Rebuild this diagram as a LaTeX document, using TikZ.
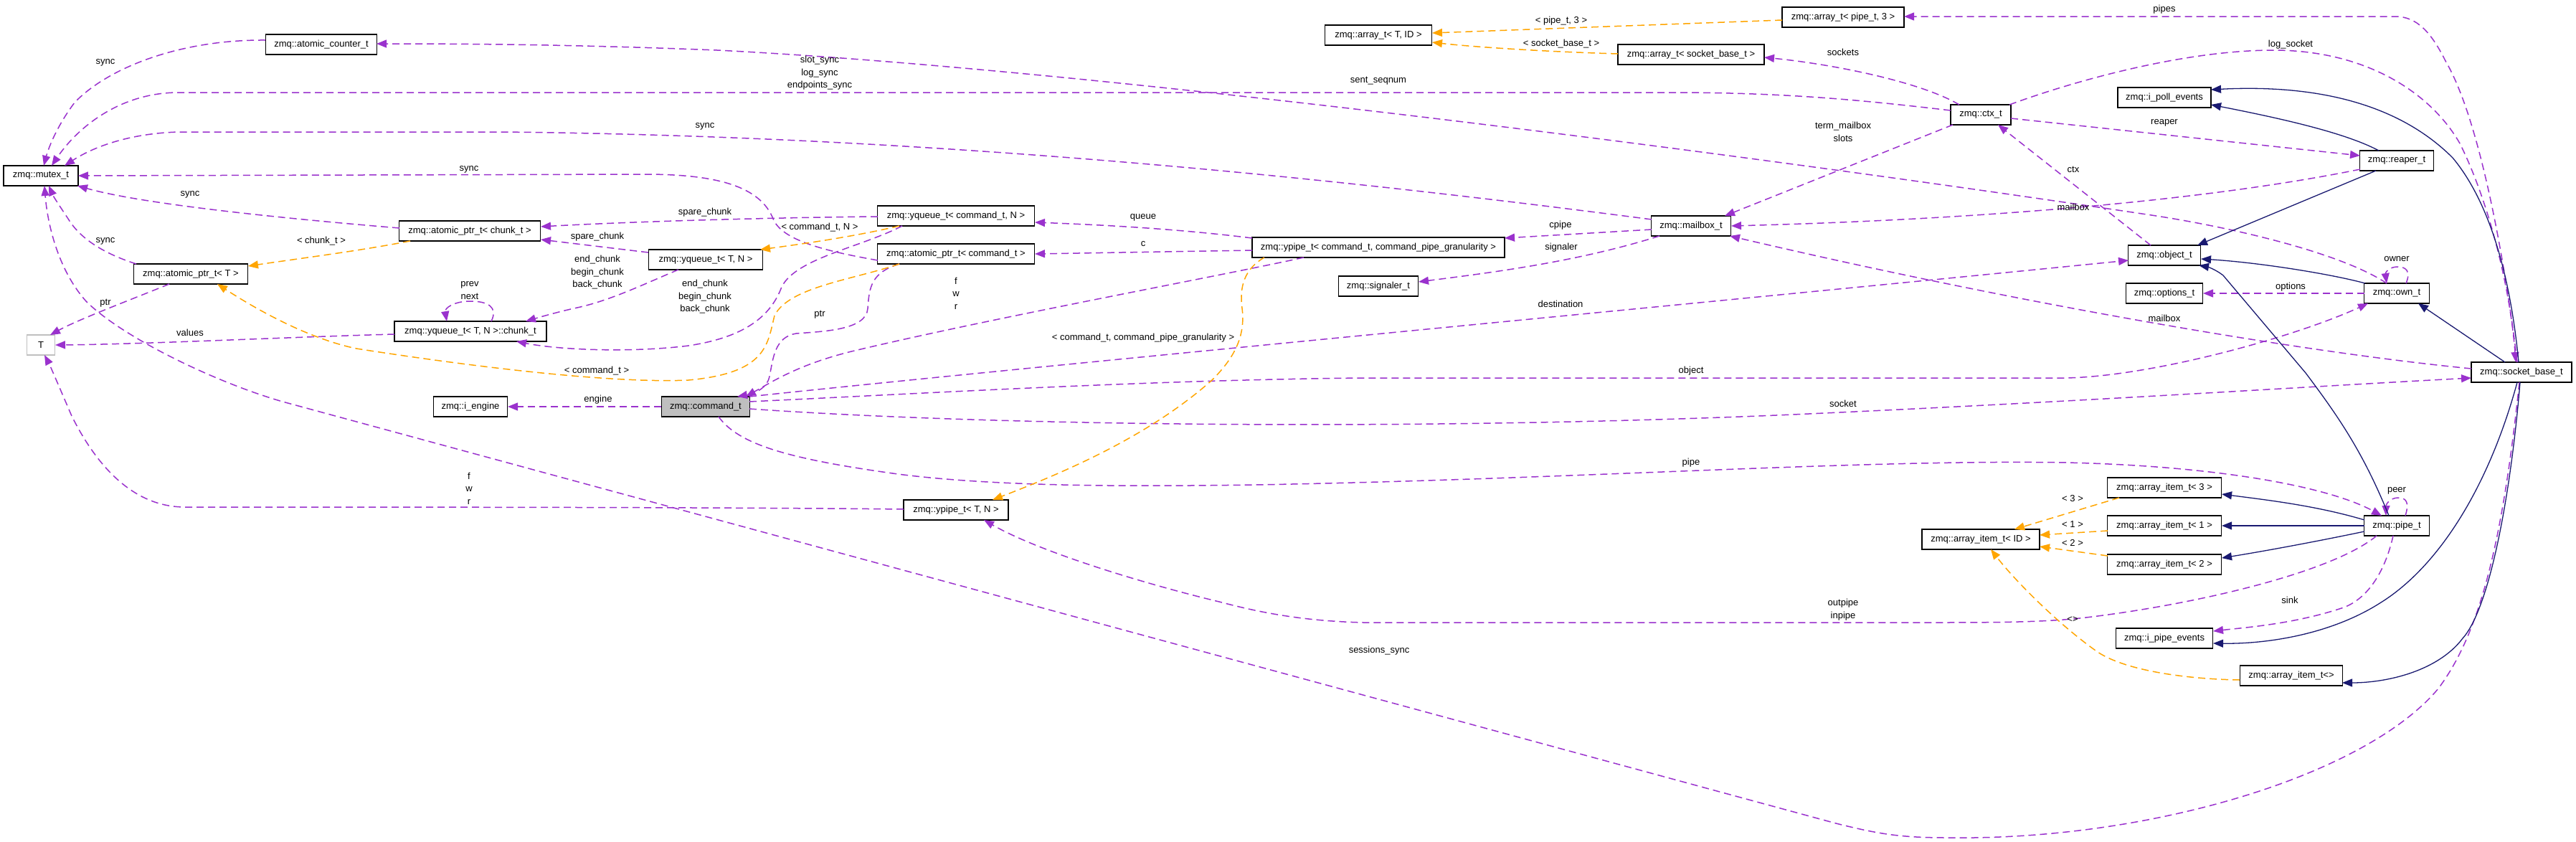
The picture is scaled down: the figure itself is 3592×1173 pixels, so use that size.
\documentclass[tikz,border=0pt]{standalone}
\usepackage{fontspec}
\setmainfont{Liberation Sans}
\usetikzlibrary{arrows.meta,calc}
\definecolor{pur}{HTML}{9A32CD}
\definecolor{org}{HTML}{FFA500}
\definecolor{mblue}{HTML}{191970}
\definecolor{gfill}{HTML}{BFBFBF}
\tikzset{
  cls/.style={draw=black, line width=1.5pt, minimum height=28pt, inner sep=0pt, fill=white, font=\fontsize{13}{15}\selectfont},
  tip/.style={-{Triangle[length=14pt,width=11pt]}},
  pe/.style={draw=pur, line width=1.5pt, dash pattern=on 10pt off 6pt, tip, fill=none},
  oe/.style={draw=org, line width=1.5pt, dash pattern=on 10pt off 6pt, tip, fill=none},
  ie/.style={draw=mblue, line width=1.3pt, tip, fill=none},
  lbl/.style={font=\fontsize{13}{17.5}\selectfont, align=center, inner sep=0pt}
}
\begin{document}
\begin{tikzpicture}[x=1pt,y=-1pt]
\useasboundingbox (0,0) rectangle (3592,1173);
% ---- class nodes ----
\node[cls, minimum width=155pt] (actr) at (448,62) {zmq::atomic\_counter\_t};
\node[cls, minimum width=104pt] (mutex) at (57,245) {zmq::mutex\_t};
\node[cls, minimum width=159pt] (aptrT) at (266,382) {zmq::atomic\_ptr\_t< T >};
\node[cls, minimum width=39pt, draw=gfill] (T) at (57,481) {T};
\node[cls, minimum width=197pt] (aptrch) at (655,322) {zmq::atomic\_ptr\_t< chunk\_t >};
\node[cls, minimum width=212pt] (chunk) at (656,462) {zmq::yqueue\_t< T, N >::chunk\_t};
\node[cls, minimum width=159pt] (yqTN) at (984,362) {zmq::yqueue\_t< T, N >};
\node[cls, minimum width=219pt] (yqcmd) at (1333,301) {zmq::yqueue\_t< command\_t, N >};
\node[cls, minimum width=219pt] (aptrcmd) at (1333,354) {zmq::atomic\_ptr\_t< command\_t >};
\node[cls, minimum width=123pt, fill=gfill] (cmd) at (984,567) {zmq::command\_t};
\node[cls, minimum width=103pt] (ieng) at (656,567) {zmq::i\_engine};
\node[cls, minimum width=146pt] (ypTN) at (1333,711) {zmq::ypipe\_t< T, N >};
\node[cls, minimum width=352pt] (ypcmd) at (1922,345) {zmq::ypipe\_t< command\_t, command\_pipe\_granularity >};
\node[cls, minimum width=111pt] (mbox) at (2358,315) {zmq::mailbox\_t};
\node[cls, minimum width=111pt] (sig) at (1922,399) {zmq::signaler\_t};
\node[cls, minimum width=149pt] (arrTID) at (1922,49) {zmq::array\_t< T, ID >};
\node[cls, minimum width=204pt] (arrsock) at (2358,76) {zmq::array\_t< socket\_base\_t >};
\node[cls, minimum width=170pt] (arrpipe) at (2570,24) {zmq::array\_t< pipe\_t, 3 >};
\node[cls, minimum width=84pt] (ctx) at (2762,160) {zmq::ctx\_t};
\node[cls, minimum width=130pt] (ipoll) at (3018,136) {zmq::i\_poll\_events};
\node[cls, minimum width=103pt] (reaper) at (3342,224) {zmq::reaper\_t};
\node[cls, minimum width=101pt] (object) at (3018,356) {zmq::object\_t};
\node[cls, minimum width=107pt] (options) at (3018,409) {zmq::options\_t};
\node[cls, minimum width=91pt] (own) at (3342,409) {zmq::own\_t};
\node[cls, minimum width=140pt] (sbase) at (3516,519) {zmq::socket\_base\_t};
\node[cls, minimum width=159pt] (ai3) at (3018,680) {zmq::array\_item\_t< 3 >};
\node[cls, minimum width=159pt] (ai1) at (3018,733) {zmq::array\_item\_t< 1 >};
\node[cls, minimum width=159pt] (ai2) at (3018,787) {zmq::array\_item\_t< 2 >};
\node[cls, minimum width=164pt] (aiID) at (2762,752) {zmq::array\_item\_t< ID >};
\node[cls, minimum width=91pt] (pipe) at (3342,733) {zmq::pipe\_t};
\node[cls, minimum width=135pt] (ipipe) at (3018,890) {zmq::i\_pipe\_events};
\node[cls, minimum width=143pt] (aiE) at (3195,942) {zmq::array\_item\_t<>};
% ---- usage edges (purple) ----
\draw[pe] ($(actr)+(-78,-6)$) .. controls (250,55) and (150,95) .. (104,143) .. controls (80,175) and (68,205) .. ($(mutex)+(4,-14)$);
\draw[pe] ($(own)+(-14,-14)$) .. controls (3260,350) and (3100,315) .. (3000,300) .. controls (2400,210) and (1500,95) .. (1000,70) .. controls (800,62) and (650,61) .. ($(actr)+(77,-1)$);
\draw[pe] ($(ctx)+(-42,-6)$) .. controls (2600,140) and (2500,130) .. (2350,129) -- (249,129) .. controls (170,129) and (110,175) .. ($(mutex)+(15,-14)$);
\draw[pe] ($(mbox)+(-55,-9)$) .. controls (1850,247) and (1300,190) .. (700,184) -- (249,184) .. controls (180,186) and (130,205) .. ($(mutex)+(33,-14)$);
\draw[pe] ($(aptrcmd)+(-109,9)$) .. controls (1150,350) and (1090,335) .. (1078,305) .. controls (1060,260) and (1000,243) .. (900,243) -- ($(mutex)+(52,0)$);
\draw[pe] ($(aptrch)+(-98,-4)$) .. controls (400,305) and (200,285) .. ($(mutex)+(51,14)$);
\draw[pe] ($(aptrT)+(-76,-14)$) .. controls (140,352) and (110,330) .. (95,305) .. controls (85,290) and (75,275) .. ($(mutex)+(11,14)$);
\draw[pe] ($(sbase)+(-3,14)$) .. controls (3490,750) and (3460,880) .. (3400,960) .. controls (3300,1080) and (3000,1172) .. (2716,1168) .. controls (2650,1168) and (2620,1163) .. (2560,1148) -- (394,560) .. controls (300,533) and (170,470) .. (120,420) .. controls (80,375) and (66,310) .. ($(mutex)+(5,14)$);
\draw[pe] ($(yqcmd)+(-109,1)$) .. controls (1100,303) and (900,308) .. ($(aptrch)+(99,-6)$);
\draw[pe] ($(yqTN)+(-80,-10)$) -- ($(aptrch)+(99,12)$);
\draw[pe] ($(yqTN)+(-38,14)$) .. controls (900,395) and (850,420) .. (800,430) .. controls (770,437) and (750,443) .. ($(chunk)+(77,-14)$);
\draw[pe] ($(yqcmd)+(-75,14)$) .. controls (1200,345) and (1110,360) .. (1090,400) .. controls (1075,440) and (1040,470) .. (960,482) .. controls (880,492) and (780,488) .. ($(chunk)+(64,14)$);
\draw[pe] ($(chunk)+(29,-14)$) .. controls (695,428) and (680,420) .. (656,420) .. controls (632,420) and (620,430) .. ($(chunk)+(-33,-14)$);
\draw[pe] ($(chunk)+(-106,4)$) .. controls (400,470) and (200,480) .. ($(T)+(20,0)$);
\draw[pe] ($(aptrT)+(-30,14)$) .. controls (190,415) and (110,445) .. ($(T)+(13,-14)$);
\draw[pe] ($(aptrcmd)+(-79,14)$) .. controls (1215,380) and (1212,400) .. (1210,430) .. controls (1208,460) and (1150,462) .. (1110,465) .. controls (1080,470) and (1078,500) .. (1073,525) .. controls (1070,540) and (1055,548) .. ($(cmd)+(44,-14)$);
\draw[pe] ($(ypcmd)+(-176,-13)$) .. controls (1650,320) and (1550,314) .. ($(yqcmd)+(110,9)$);
\draw[pe] ($(ypcmd)+(-176,4)$) -- ($(aptrcmd)+(110,0)$);
\draw[pe] ($(ypcmd)+(-104,14)$) .. controls (1700,385) and (1400,440) .. (1200,487) .. controls (1120,505) and (1080,530) .. ($(cmd)+(56,-14)$);
\draw[pe] ($(mbox)+(-55,5)$) -- ($(ypcmd)+(176,-13)$);
\draw[pe] ($(mbox)+(-44,14)$) .. controls (2200,365) and (2080,380) .. ($(sig)+(56,-6)$);
\draw[pe] ($(cmd)+(-62,0)$) -- ($(ieng)+(52,0)$);
\draw[pe] ($(cmd)+(61,-14)$) .. controls (1400,515) and (2400,420) .. ($(object)+(-50,7)$);
\draw[pe] ($(cmd)+(61,-7)$) .. controls (1300,548) and (1600,530) .. (1900,527) -- (2880,527) .. controls (3000,525) and (3200,470) .. ($(own)+(-40,14)$);
\draw[pe] ($(cmd)+(61,3)$) .. controls (1400,595) and (2000,600) .. (2500,578) .. controls (2900,560) and (3200,540) .. ($(sbase)+(-70,8)$);
\draw[pe] ($(cmd)+(18,14)$) .. controls (1030,620) and (1100,640) .. (1252,661) .. controls (1400,680) and (1600,678) .. (1750,676) .. controls (2200,668) and (2600,640) .. (2882,645) .. controls (3100,650) and (3250,680) .. ($(pipe)+(-21,-14)$);
\draw[pe] ($(ypTN)+(-73,-1)$) .. controls (1000,707) and (500,707) .. (258,707) .. controls (180,707) and (130,640) .. (100,580) .. controls (85,545) and (70,510) .. ($(T)+(5,14)$);
\draw[pe] ($(pipe)+(-28,14)$) .. controls (3250,800) and (3050,845) .. (2900,862) .. controls (2850,867) and (2800,868) .. (2700,868) -- (1901,868) .. controls (1820,866) and (1760,855) .. (1700,839) .. controls (1600,815) and (1450,770) .. ($(ypTN)+(39,14)$);
\draw[pe] ($(pipe)+(12,-14)$) .. controls (3360,700) and (3355,694) .. (3344,694) .. controls (3333,694) and (3327,703) .. ($(pipe)+(-15,-14)$);
\draw[pe] ($(pipe)+(-5,14)$) .. controls (3325,800) and (3300,835) .. (3268,847) .. controls (3200,870) and (3130,875) .. ($(ipipe)+(68,-10)$);
\draw[pe] ($(sbase)+(-6,-14)$) .. controls (3495,380) and (3460,170) .. (3410,85) .. controls (3390,45) and (3370,23) .. (3340,23) -- ($(arrpipe)+(85,-1)$);
\draw[pe] ($(ctx)+(40,-14)$) .. controls (2900,110) and (3050,70) .. (3170,70) .. controls (3300,70) and (3390,130) .. (3430,200) .. controls (3470,280) and (3500,400) .. ($(sbase)+(-8,-14)$);
\draw[pe] ($(ctx)+(-30,-14)$) .. controls (2680,115) and (2560,90) .. ($(arrsock)+(102,4)$);
\draw[pe] ($(ctx)+(42,5)$) -- ($(reaper)+(-51,-7)$);
\draw[pe] ($(ctx)+(-39,14)$) -- ($(mbox)+(47,-14)$);
\draw[pe] ($(object)+(-19,-14)$) -- ($(ctx)+(24,14)$);
\draw[pe] ($(reaper)+(-51,12)$) .. controls (3100,275) and (2800,305) .. ($(mbox)+(56,0)$);
\draw[pe] ($(sbase)+(-70,-5)$) .. controls (3200,490) and (2800,420) .. ($(mbox)+(54,14)$);
\draw[pe] ($(own)+(-45,0)$) -- ($(options)+(54,0)$);
\draw[pe] ($(own)+(13,-14)$) .. controls (3362,378) and (3355,372) .. (3343,372) .. controls (3332,372) and (3326,380) .. ($(own)+(-14,-14)$);
% ---- template edges (orange) ----
\draw[oe] ($(aptrch)+(-83,14)$) .. controls (500,350) and (420,360) .. ($(aptrT)+(80,-11)$);
\draw[oe] ($(aptrcmd)+(-79,14)$) .. controls (1190,390) and (1100,400) .. (1080,440) .. controls (1070,480) and (1070,520) .. (960,530) .. controls (850,535) and (650,510) .. (497,486) .. controls (420,470) and (340,420) .. ($(aptrT)+(37,14)$);
\draw[oe] ($(yqcmd)+(-79,14)$) .. controls (1190,330) and (1120,340) .. ($(yqTN)+(76,-14)$);
\draw[oe] ($(ypcmd)+(-159,14)$) .. controls (1735,375) and (1728,400) .. (1732,430) .. controls (1737,470) and (1720,500) .. (1690,530) .. controls (1600,610) and (1480,660) .. ($(ypTN)+(51,-14)$);
\draw[oe] ($(ai3)+(-63,14)$) -- ($(aiID)+(47,-14)$);
\draw[oe] ($(ai1)+(-79,7)$) -- ($(aiID)+(82,-6)$);
\draw[oe] ($(ai2)+(-79,-12)$) -- ($(aiID)+(82,10)$);
\draw[oe] ($(aiE)+(-72,6)$) .. controls (3050,947) and (2960,935) .. (2922,907) .. controls (2870,870) and (2810,810) .. ($(aiID)+(14,14)$);
\draw[oe] ($(arrpipe)+(-85,4)$) -- ($(arrTID)+(75,-3)$);
\draw[oe] ($(arrsock)+(-102,-1)$) .. controls (2150,72) and (2050,65) .. ($(arrTID)+(75,10)$);
% ---- inheritance edges (blue) ----
\draw[ie] ($(sbase)+(-4,-14)$) .. controls (3500,380) and (3470,280) .. (3420,220) .. controls (3340,140) and (3220,118) .. ($(ipoll)+(65,-11)$);
\draw[ie] ($(reaper)+(-25,-14)$) .. controls (3270,185) and (3180,165) .. ($(ipoll)+(65,10)$);
\draw[ie] ($(reaper)+(-29,14)$) -- ($(object)+(46,-14)$);
\draw[ie] ($(own)+(-44,-14)$) .. controls (3250,382) and (3150,366) .. ($(object)+(51,5)$);
\draw[ie] ($(sbase)+(-23,-14)$) -- ($(own)+(30,14)$);
\draw[ie] ($(pipe)+(-11,-14)$) .. controls (3295,630) and (3260,580) .. (3215,520) -- (3100,384) .. controls (3090,376) and (3078,372) .. ($(object)+(48,14)$);
\draw[ie] ($(pipe)+(-45,-8)$) .. controls (3230,705) and (3160,697) .. ($(ai3)+(80,9)$);
\draw[ie] ($(pipe)+(-45,0)$) -- ($(ai1)+(80,0)$);
\draw[ie] ($(pipe)+(-45,8)$) .. controls (3230,755) and (3160,768) .. ($(ai2)+(80,-9)$);
\draw[ie] ($(sbase)+(-6,14)$) .. controls (3470,680) and (3400,790) .. (3320,840) .. controls (3250,885) and (3160,898) .. ($(ipipe)+(68,7)$);
\draw[ie] ($(sbase)+(-2,14)$) .. controls (3500,700) and (3470,850) .. (3434,890) .. controls (3400,935) and (3330,952) .. ($(aiE)+(71,10)$);
% ---- labels ----
\node[lbl] (l1) at (147,87) {sync};
\node[lbl] (l2) at (1922,113) {sent\_seqnum};
\node[lbl] (l3) at (1143,102) {slot\_sync\\log\_sync\\endpoints\_sync};
\node[lbl] (l4) at (983,176) {sync};
\node[lbl] (l5) at (654,236) {sync};
\node[lbl] (l6) at (265,271) {sync};
\node[lbl] (l7) at (147,336) {sync};
\node[lbl] (l8) at (1923,907) {sessions\_sync};
\node[lbl] (l9) at (448,336) {< chunk\_t >};
\node[lbl] (l10) at (832,517) {< command\_t >};
\node[lbl] (l11) at (1143,317) {< command\_t, N >};
\node[lbl] (l12) at (983,296) {spare\_chunk};
\node[lbl] (l13) at (833,330) {spare\_chunk};
\node[lbl] (l14) at (833,380) {end\_chunk\\begin\_chunk\\back\_chunk};
\node[lbl] (l15) at (983,414) {end\_chunk\\begin\_chunk\\back\_chunk};
\node[lbl] (l16) at (655,405) {prev\\next};
\node[lbl] (l17) at (265,464) {values};
\node[lbl] (l18) at (147,423) {ptr};
\node[lbl] (l19) at (1143,439) {ptr};
\node[lbl] (l20) at (1594,303) {queue};
\node[lbl] (l21) at (1594,340) {c};
\node[lbl] (l22) at (1333,409) {f\\w\\r};
\node[lbl] (l23) at (1594,471) {< command\_t, command\_pipe\_granularity >};
\node[lbl] (l24) at (2176,314) {cpipe};
\node[lbl] (l25) at (2177,345) {signaler};
\node[lbl] (l26) at (834,557) {engine};
\node[lbl] (l27) at (2176,424) {destination};
\node[lbl] (l28) at (2358,517) {object};
\node[lbl] (l29) at (2570,563) {socket};
\node[lbl] (l30) at (2358,645) {pipe};
\node[lbl] (l31) at (654,681) {f\\w\\r};
\node[lbl] (l32) at (2570,850) {outpipe\\inpipe};
\node[lbl] (l33) at (3342,684) {peer};
\node[lbl] (l34) at (3193,837) {sink};
\node[lbl] (l35) at (2890,695) {< 3 >};
\node[lbl] (l36) at (2890,731) {< 1 >};
\node[lbl] (l37) at (2890,757) {< 2 >};
\node[lbl] (l38) at (2890,864) {<>};
\node[lbl] (l39) at (2177,29) {< pipe\_t, 3 >};
\node[lbl] (l40) at (2177,61) {< socket\_base\_t >};
\node[lbl] (l41) at (3018,13) {pipes};
\node[lbl] (l42) at (3194,62) {log\_socket};
\node[lbl] (l43) at (2570,73) {sockets};
\node[lbl] (l44) at (3018,171) {reaper};
\node[lbl] (l45) at (2570,184) {term\_mailbox\\slots};
\node[lbl] (l46) at (2891,236) {ctx};
\node[lbl] (l47) at (2891,289) {mailbox};
\node[lbl] (l48) at (3018,444) {mailbox};
\node[lbl] (l49) at (3194,400) {options};
\node[lbl] (l50) at (3342,361) {owner};
\end{tikzpicture}
\end{document}
